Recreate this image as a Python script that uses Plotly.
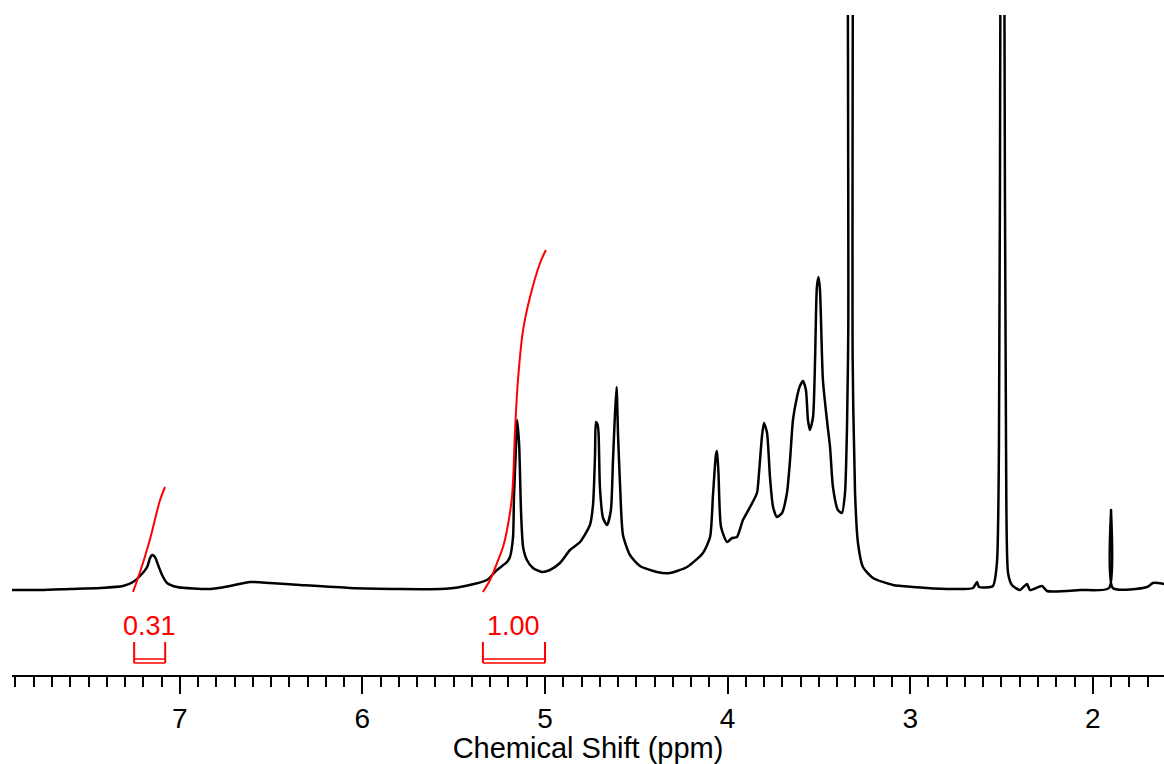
import plotly.graph_objects as go

# ---- spectrum (ppm, intensity) ----
ppm = [7.919, 7.765, 7.601, 7.437, 7.311, 7.256, 7.218, 7.179, 7.163, 7.152, 7.136, 7.119, 7.097, 7.070, 7.015,
       6.834, 6.725, 6.615, 6.506, 6.342, 6.068, 5.794, 5.575, 5.465, 5.318, 5.263, 5.208, 5.192, 5.175, 5.170,
       5.159, 5.153, 5.142, 5.131, 5.120, 5.099, 5.066, 5.016, 4.973, 4.918, 4.863, 4.808, 4.754, 4.737, 4.726,
       4.721, 4.713, 4.707, 4.699, 4.682, 4.660, 4.639, 4.628, 4.617, 4.608, 4.600, 4.589, 4.573, 4.535, 4.480,
       4.387, 4.316, 4.222, 4.135, 4.096, 4.080, 4.064, 4.058, 4.050, 4.036, 4.003, 3.976, 3.949, 3.916, 3.877,
       3.839, 3.828, 3.812, 3.801, 3.784, 3.768, 3.751, 3.730, 3.702, 3.675, 3.658, 3.642, 3.620, 3.604, 3.587,
       3.571, 3.560, 3.549, 3.532, 3.521, 3.511, 3.502, 3.494, 3.478, 3.456, 3.439, 3.423, 3.396, 3.374, 3.357,
       3.346, 3.339, 3.333, 3.327, 3.315, 3.302, 3.286, 3.259, 3.204, 3.094, 2.985, 2.799, 2.656, 2.634, 2.623,
       2.547, 2.525, 2.514, 2.506, 2.497, 2.493, 2.484, 2.475, 2.464, 2.443, 2.399, 2.360, 2.344, 2.278, 2.251,
       2.070, 1.911, 1.900, 1.890, 1.703, 1.671, 1.643, 1.610]
intensity = [0, 0, 1, 2, 4, 8, 14, 23, 32, 35, 33, 25, 15, 7, 3,
             1, 4, 8, 7, 5, 2, 1, 1, 3, 10, 20, 28, 33, 53, 93,
             143, 170, 147, 77, 43, 30, 22, 18, 20, 27, 40, 48, 65, 85, 135,
             168, 166, 158, 102, 72, 65, 80, 128, 175, 203, 155, 105, 55, 35, 24,
             18, 17, 23, 37, 53, 95, 135, 139, 117, 63, 48, 52, 53, 70, 83,
             97, 117, 153, 167, 157, 113, 83, 73, 77, 97, 130, 170, 193, 204, 209,
             200, 170, 160, 173, 230, 303, 313, 300, 210, 170, 143, 103, 80, 77, 97,
             163, 263, 3000, 3000, 230, 97, 47, 23, 12, 5, 3, 1, 2, 8, 3,
             4, 27, 140, 600, 3000, 3000, 600, 140, 17, 5, 0, 6, 0, 4, -1,
             0, 2, 80, 2, 3, 7, 7, 6]

# ---- integral curves ----
int1_ppm = [7.256, 7.218, 7.185, 7.157, 7.130, 7.108, 7.081]
int1_val = [-2, 18, 37, 55, 75, 90, 103]
int2_ppm = [5.340, 5.301, 5.263, 5.230, 5.208, 5.181, 5.164, 5.148, 5.120, 5.082, 5.027, 4.995]
int2_val = [-2, 10, 27, 43, 60, 93, 160, 210, 260, 293, 327, 340]

# integral regions and values
region_start = [7.25, 5.34]
region_end = [7.08, 5.00]
region_label = ["0.31", "1.00"]

RED = "#ff0000"
FONT = "Liberation Sans, Arial, sans-serif"

fig = go.Figure()
fig.add_trace(go.Scatter(x=ppm, y=intensity, mode="lines",
                         line=dict(color="black", width=2.5, shape="spline", smoothing=0.6),
                         hoverinfo="skip"))
fig.add_trace(go.Scatter(x=int1_ppm, y=int1_val, mode="lines",
                         line=dict(color=RED, width=2, shape="spline"), hoverinfo="skip"))
fig.add_trace(go.Scatter(x=int2_ppm, y=int2_val, mode="lines",
                         line=dict(color=RED, width=2, shape="spline"), hoverinfo="skip"))

shapes = []
annotations = []
for s, e, lab in zip(region_start, region_end, region_label):
    for xx in (s, e):
        shapes.append(dict(type="line", xref="x", yref="y", x0=xx, x1=xx, y0=-52, y1=-73,
                           line=dict(color=RED, width=2)))
    for yy in (-69, -73):
        shapes.append(dict(type="line", xref="x", yref="y", x0=s, x1=e, y0=yy, y1=yy,
                           line=dict(color=RED, width=1.5)))
    annotations.append(dict(x=(s + e) / 2, y=-36, xref="x", yref="y", text=lab,
                            showarrow=False, font=dict(family=FONT, size=27, color=RED)))

fig.update_layout(
    width=1164, height=764,
    margin=dict(l=12, r=0, t=15, b=89),
    paper_bgcolor="white", plot_bgcolor="white",
    showlegend=False,
    shapes=shapes, annotations=annotations,
    xaxis=dict(range=[7.919, 1.610], showgrid=False, zeroline=False,
               showline=True, linecolor="black", linewidth=2,
               ticks="outside", ticklen=17, tickwidth=2, tickcolor="black",
               tick0=0, dtick=1,
               minor=dict(ticks="outside", ticklen=10, tickwidth=2, tickcolor="black", dtick=0.1, showgrid=False),
               tickfont=dict(family=FONT, size=28, color="black"),
               title=dict(text="Chemical Shift (ppm)", font=dict(family=FONT, size=29, color="black"), standoff=4)),
    yaxis=dict(range=[-85, 575], visible=False, showgrid=False, zeroline=False),
)

fig.write_html("out.html")
